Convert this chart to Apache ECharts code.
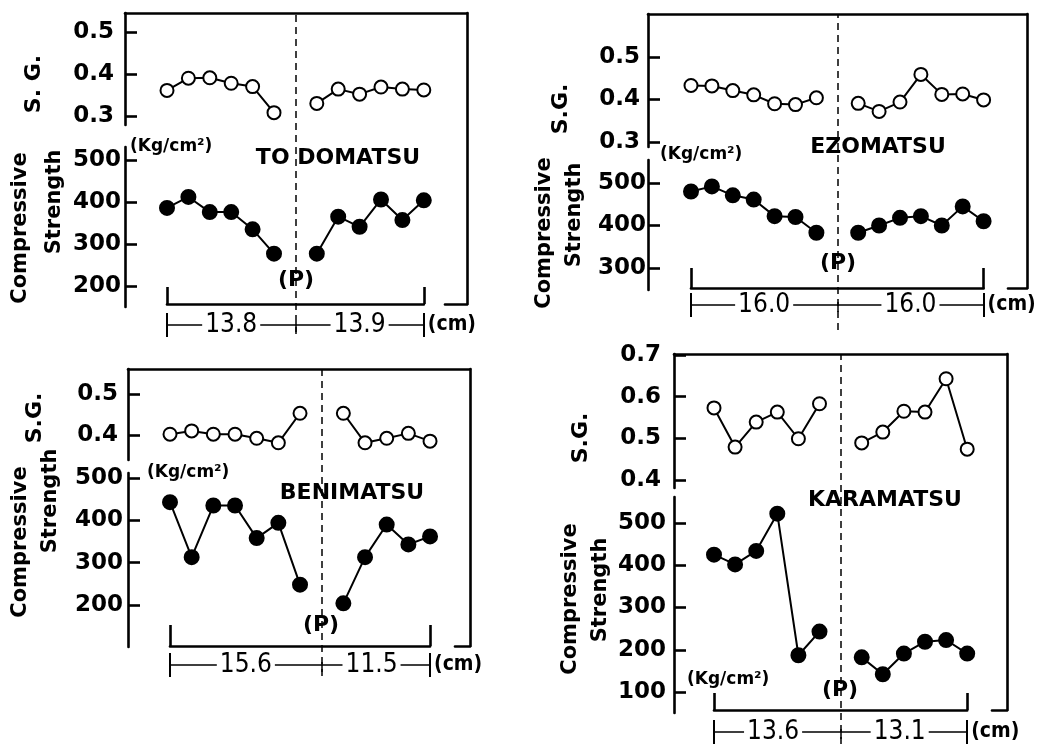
<!DOCTYPE html>
<html><head><meta charset="utf-8">
<script src="https://cdn.jsdelivr.net/npm/echarts@6/dist/echarts.min.js"></script>
<style>html,body{margin:0;padding:0;background:#fff}#c{width:1059px;height:744px}</style>
</head><body><div id="c"></div>
<script>
// ---------------- DATA ----------------
// S.G. (open circles) and Compressive strength (filled circles), left and right of pith (P)
const todomatsuSG_A = [0.361, 0.390, 0.391, 0.378, 0.370, 0.308];
const todomatsuSG_B = [0.330, 0.364, 0.352, 0.369, 0.364, 0.362];
const todomatsuCS_A = [386, 412, 376, 376, 335, 277];
const todomatsuCS_B = [277, 365, 341, 406, 357, 404];

const ezomatsuSG_A = [0.433, 0.432, 0.421, 0.411, 0.390, 0.388, 0.404];
const ezomatsuSG_B = [0.391, 0.372, 0.394, 0.459, 0.412, 0.413, 0.399];
const ezomatsuCS_A = [480, 492, 471, 461, 422, 420, 383];
const ezomatsuCS_B = [383, 400, 418, 422, 400, 445, 410];

const benimatsuSG_A = [0.402, 0.410, 0.402, 0.402, 0.392, 0.381, 0.453];
const benimatsuSG_B = [0.453, 0.381, 0.392, 0.404, 0.385];
const benimatsuCS_A = [443, 313, 435, 435, 358, 394, 248];
const benimatsuCS_B = [204, 313, 390, 343, 362];

const karamatsuSG_A = [0.573, 0.479, 0.539, 0.563, 0.499, 0.583];
const karamatsuSG_B = [0.489, 0.515, 0.565, 0.563, 0.643, 0.474];
const karamatsuCS_A = [425, 402, 434, 522, 187, 243];
const karamatsuCS_B = [182, 142, 191, 219, 223, 191];

// tick labels
const sgTicks1 = [0.3, 0.4, 0.5];
const csTicks1 = [200, 300, 400, 500];
const sgTicks2 = [0.3, 0.4, 0.5];
const csTicks2 = [300, 400, 500];
const sgTicks3 = [0.4, 0.5];
const csTicks3 = [200, 300, 400, 500];
const sgTicks4 = [0.4, 0.5, 0.6, 0.7];
const csTicks4 = [100, 200, 300, 400, 500];

// radial distances (cm) either side of pith
const dimLabels1 = ['13.8', '13.9'];
const dimLabels2 = ['16.0', '16.0'];
const dimLabels3 = ['15.6', '11.5'];
const dimLabels4 = ['13.6', '13.1'];

const titles = ['TO DOMATSU', 'EZOMATSU', 'BENIMATSU', 'KARAMATSU'];

// ---------------- LAYOUT ----------------
const panels = [
  { title: titles[0], sgA: todomatsuSG_A, sgB: todomatsuSG_B, csA: todomatsuCS_A, csB: todomatsuCS_B,
    sgTicks: sgTicks1, csTicks: csTicks1, dim: dimLabels1, bStart: 7, pIdx: 6, n: 12,
    L: { x0: 167, step: 21.4, fl: 125, fr: 467, ft: 13, fb: 304,
         sg: { top: 13, bottom: 125, t1: [0.5, 32], t2: [0.3, 116], margin: 11 },
         cs: { top: 147, bottom: 307, t1: [500, 160], t2: [200, 286], margin: 4 },
         bTick: 17, dimY: 325, dimPos: [3, 9], dashBottom: 334, shortL: 445,
         sgName: 'S. G.', sgNameXY: [34, 84], compXY: [21, 228], strXY: [55, 202],
         kgXY: [130, 147], titleXY: [338, 158], pXY: [296, 280] } },
  { title: titles[1], sgA: ezomatsuSG_A, sgB: ezomatsuSG_B, csA: ezomatsuCS_A, csB: ezomatsuCS_B,
    sgTicks: sgTicks2, csTicks: csTicks2, dim: dimLabels2, bStart: 8, pIdx: 7, n: 14,
    L: { x0: 691, step: 20.9, fl: 648, fr: 1027, ft: 14, fb: 288,
         sg: { top: 14, bottom: 147, t1: [0.5, 57], t2: [0.3, 142], margin: 8 },
         cs: { top: 160, bottom: 290, t1: [500, 183], t2: [300, 268], margin: 2 },
         bTick: 20, dimY: 305, dimPos: [3.5, 10.5], dashBottom: 330, shortL: 1008,
         sgName: 'S.G.', sgNameXY: [561, 109], compXY: [545, 233], strXY: [575, 215],
         kgXY: [660, 155], titleXY: [878, 147], pXY: [838, 263] } },
  { title: titles[2], sgA: benimatsuSG_A, sgB: benimatsuSG_B, csA: benimatsuCS_A, csB: benimatsuCS_B,
    sgTicks: sgTicks3, csTicks: csTicks3, dim: dimLabels3, bStart: 8, pIdx: 7, n: 12,
    L: { x0: 170, step: 21.67, fl: 128, fr: 470, ft: 369, fb: 646,
         sg: { top: 369, bottom: 460, t1: [0.5, 394], t2: [0.4, 435], margin: 10 },
         cs: { top: 473, bottom: 647, t1: [500, 478], t2: [200, 605], margin: 5 },
         bTick: 21, dimY: 665, dimPos: [3.5, 9.3], dashBottom: 676, shortL: 455,
         sgName: 'S.G.', sgNameXY: [35, 418], compXY: [21, 542], strXY: [51, 501],
         kgXY: [147, 473], titleXY: [352, 493], pXY: [321, 625] } },
  { title: titles[3], sgA: karamatsuSG_A, sgB: karamatsuSG_B, csA: karamatsuCS_A, csB: karamatsuCS_B,
    sgTicks: sgTicks4, csTicks: csTicks4, dim: dimLabels4, bStart: 7, pIdx: 6, n: 12,
    L: { x0: 714, step: 21.1, fl: 674, fr: 1007, ft: 354, fb: 710,
         sg: { top: 354, bottom: 488, t1: [0.7, 355], t2: [0.4, 480], margin: 13 },
         cs: { top: 497, bottom: 713, t1: [500, 523], t2: [100, 692], margin: 8 },
         bTick: 17, dimY: 732, dimPos: [2.8, 8.8], dashBottom: 744, shortL: 992,
         sgName: 'S.G.', sgNameXY: [581, 438], compXY: [571, 599], strXY: [601, 590],
         kgXY: [687, 680], titleXY: [885, 500], pXY: [840, 690] } }
];

const FONT = '"DejaVu Sans", "Noto Sans", sans-serif';
const NARROW = '"Liberation Sans Narrow", "DejaVu Sans Condensed", "Liberation Sans", sans-serif';
const AXW = 2.6;

const option = { animation: false, backgroundColor: '#fff', grid: [], xAxis: [], yAxis: [], series: [], graphic: [] };

function addGrid(left, top, width, height) {
  option.grid.push({ left, top, width, height, show: false, containLabel: false, outerBoundsMode: 'none' });
  return option.grid.length - 1;
}
function base(gi, extra) {
  return Object.assign({ gridIndex: gi, type: 'value', splitLine: { show: false },
    axisTick: { show: false }, axisLabel: { show: false }, axisLine: { show: false, onZero: false } }, extra);
}
function addX(gi, extra) { option.xAxis.push(base(gi, extra)); return option.xAxis.length - 1; }
function addY(gi, extra) { option.yAxis.push(base(gi, extra)); return option.yAxis.length - 1; }
function rangeFrom(ax) {
  const ppv = (ax.t2[1] - ax.t1[1]) / (ax.t1[0] - ax.t2[0]);
  return { min: ax.t2[0] - (ax.bottom - ax.t2[1]) / ppv, max: ax.t1[0] + (ax.t1[1] - ax.top) / ppv };
}
const line = (w) => ({ show: true, onZero: false, lineStyle: { color: '#000', width: w } });

function addSeries(xi, yi, vals, start, open) {
  option.series.push({
    type: 'line', xAxisIndex: xi, yAxisIndex: yi, silent: true, z: 4,
    data: vals.map((v, i) => [start + i, v]),
    symbol: 'circle', symbolSize: open ? 13 : 14, showAllSymbol: true,
    itemStyle: { color: open ? '#fff' : '#000', borderColor: '#000', borderWidth: 2 },
    lineStyle: { color: '#000', width: 2 }
  });
}
function addText(text, x, y, size, weight, rot, align, family) {
  option.graphic.push({ type: 'text', x, y, rotation: rot ? Math.PI / 2 : 0, silent: true, z: 10,
    style: { text, fill: '#000', fontSize: size, fontWeight: weight, fontFamily: family || FONT,
             align: align || 'center', verticalAlign: 'middle' } });
}

panels.forEach(p => {
  const L = p.L;
  const W = L.fr - L.fl;
  const xmin = (L.fl - L.x0) / L.step, xmax = (L.fr - L.x0) / L.step;

  // frame: top border and right border
  let g = addGrid(L.fl, L.ft, W, L.fb - L.ft);
  addX(g, { position: 'top', min: xmin, max: xmax, axisLine: line(AXW) });
  addY(g, { position: 'right', min: 0, max: 1, axisLine: line(AXW) });

  // short foot at lower right
  g = addGrid(L.shortL, L.fb - 10, L.fr - L.shortL, 10);
  addX(g, { position: 'bottom', min: 0, max: 1, axisLine: line(AXW) });
  addY(g, { show: false, min: 0, max: 1 });

  // S.G. grid
  const sr = rangeFrom(L.sg);
  g = addGrid(L.fl, L.sg.top, W, L.sg.bottom - L.sg.top);
  let xi = addX(g, { show: false, min: xmin, max: xmax });
  let yi = addY(g, { position: 'left', min: sr.min, max: sr.max, axisLine: line(AXW),
    axisTick: { show: true, inside: true, length: 12, customValues: p.sgTicks, lineStyle: { color: '#000', width: AXW } },
    axisLabel: { show: true, customValues: p.sgTicks, margin: L.sg.margin, color: '#000', fontSize: 23, fontWeight: 'bold', fontFamily: FONT,
                 formatter: v => Number(v).toFixed(1) } });
  addSeries(xi, yi, p.sgA, 0, true);
  addSeries(xi, yi, p.sgB, p.bStart, true);

  // Compressive strength grid
  const cr = rangeFrom(L.cs);
  g = addGrid(L.fl, L.cs.top, W, L.cs.bottom - L.cs.top);
  xi = addX(g, { show: false, min: xmin, max: xmax });
  yi = addY(g, { position: 'left', min: cr.min, max: cr.max, axisLine: line(AXW),
    axisTick: { show: true, inside: true, length: 12, customValues: p.csTicks, lineStyle: { color: '#000', width: AXW } },
    axisLabel: { show: true, customValues: p.csTicks, margin: L.cs.margin, color: '#000', fontSize: 23, fontWeight: 'bold', fontFamily: FONT,
                 formatter: v => String(Math.round(v)) } });
  addSeries(xi, yi, p.csA, 0, false);
  addSeries(xi, yi, p.csB, p.bStart, false);

  // dashed pith line
  g = addGrid(L.fl, L.ft, W, L.dashBottom - L.ft);
  xi = addX(g, { show: false, min: xmin, max: xmax });
  yi = addY(g, { show: false, min: 0, max: 1 });
  option.series.push({ type: 'line', xAxisIndex: xi, yAxisIndex: yi, data: [], silent: true,
    markLine: { silent: true, symbol: ['none', 'none'], label: { show: false },
      lineStyle: { type: [7, 5], color: '#000', width: 1.5 }, data: [{ xAxis: p.pIdx }] } });

  // bracket under the curves
  g = addGrid(L.x0, L.fb - L.bTick, p.n * L.step, L.bTick);
  addX(g, { position: 'bottom', min: 0, max: p.n, axisLine: line(AXW),
    axisTick: { show: true, inside: true, length: L.bTick, customValues: [0, p.n], lineStyle: { color: '#000', width: AXW } } });
  addY(g, { show: false, min: 0, max: 1 });

  // dimension line
  g = addGrid(L.x0, L.dimY - 12, p.n * L.step, 24);
  addX(g, { position: 'bottom', min: 0, max: p.n,
    axisTick: { show: true, inside: true, length: 24, customValues: [0, p.n], lineStyle: { color: '#000', width: 2 } } });
  addX(g, { position: 'bottom', offset: -5, min: 0, max: p.n,
    axisTick: { show: true, inside: true, length: 10, customValues: [p.pIdx], lineStyle: { color: '#000', width: 1.5 } } });
  addX(g, { position: 'top', offset: -12, min: 0, max: p.n, axisLine: line(1.5),
    axisLabel: { show: true, customValues: L.dimPos, margin: 0, verticalAlign: 'middle', color: '#000',
      fontSize: 26, fontFamily: NARROW, backgroundColor: '#fff', padding: [0, 3],
      formatter: v => { const k = L.dimPos.findIndex(q => Math.abs(q - v) < 1e-6); return k >= 0 ? p.dim[k] : ''; } },
    name: '(cm)', nameLocation: 'end', nameGap: 4,
    nameTextStyle: { color: '#000', fontSize: 21, fontFamily: NARROW, fontWeight: 'bold', verticalAlign: 'middle' } });
  addY(g, { show: false, min: 0, max: 1 });

  // texts
  addText(L.sgName, L.sgNameXY[0], L.sgNameXY[1], 22, 'bold', true);
  addText('Compressive', L.compXY[0], L.compXY[1], 21, 'bold', true);
  addText('Strength', L.strXY[0], L.strXY[1], 21, 'bold', true);
  addText('(Kg/cm²)', L.kgXY[0], L.kgXY[1], 17, 'bold', false, 'left');
  addText(p.title, L.titleXY[0], L.titleXY[1], 22, 'bold', false);
  addText('(P)', L.pXY[0], L.pXY[1], 22, 'bold', false);
});

const chart = echarts.init(document.getElementById('c'), null, { renderer: 'canvas' });
chart.setOption(option);
</script>
</body></html>
